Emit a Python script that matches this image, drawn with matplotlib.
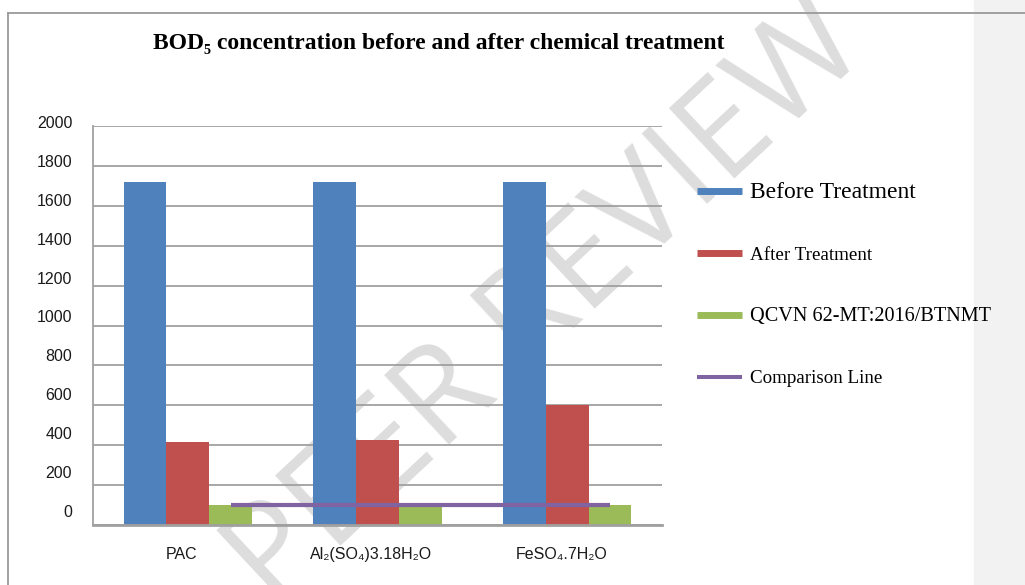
import numpy as np
import matplotlib
matplotlib.use('Agg')
import matplotlib.pyplot as plt
from matplotlib.lines import Line2D
from matplotlib.patches import Rectangle
import matplotlib.transforms as mtransforms

# 데이터
categories = ['PAC', 'Al₂(SO₄)3.18H₂O', 'FeSO₄.7H₂O']
before_vals = [1720, 1720, 1720]
after_vals = [418, 428, 603]
qcvn_vals = [100, 100, 100]
comparison_vals = [100, 100, 100]
y_ticks = [0, 200, 400, 600, 800, 1000, 1200, 1400, 1600, 1800, 2000]

series_names = ['Before Treatment', 'After Treatment', 'QCVN 62-MT:2016/BTNMT', 'Comparison Line']
colors = ['#4F81BD', '#C0504D', '#9BBB59', '#8064A2']

W, H = 1025, 585
fig = plt.figure(figsize=(W / 100, H / 100), dpi=100)

# 오른쪽 회색 띠, 테두리
fig.add_artist(Rectangle((974 / W, 0), 51 / W, 1, transform=fig.transFigure,
                         color='#f2f2f2', zorder=-3))
fig.add_artist(Line2D([8 / W, 1], [1 - 13 / H, 1 - 13 / H], transform=fig.transFigure,
                      color='#9a9a9a', lw=1.3, zorder=5))
fig.add_artist(Line2D([8 / W, 8 / W], [0, 1 - 13 / H], transform=fig.transFigure,
                      color='#9a9a9a', lw=1.3, zorder=5))

# 워터마크 (뒤쪽)
fig.text(548 / W, 1 - 305 / H, 'PEER REVIEW', fontsize=96, color='#dddddd',
         family=['Open Sans', 'DejaVu Sans'], rotation=43, ha='center', va='center',
         rotation_mode='anchor', zorder=-1)

ax = fig.add_axes([93 / W, 1 - 525 / H, 569 / W, 399 / H])
ax.set_facecolor('none')

x = np.arange(len(categories))
bw = 0.225
ax.bar(x - bw, before_vals, bw, color=colors[0], zorder=2)
ax.bar(x, after_vals, bw, color=colors[1], zorder=2)
ax.bar(x + bw, qcvn_vals, bw, color=colors[2], zorder=2)
ax.plot(x + bw, comparison_vals, color=colors[3], lw=3, solid_capstyle='butt', zorder=3)

ax.set_xlim(-0.5, 2.5)
ax.set_ylim(0, 2000)
ax.set_yticks(y_ticks)
ax.set_yticklabels([str(v) for v in y_ticks], family='Liberation Sans', fontsize=11.5, color='#1a1a1a')
ax.set_xticks(x)
ax.set_xticklabels(categories, family=['Liberation Sans', 'DejaVu Sans'], fontsize=11.5, color='#1a1a1a')
ax.tick_params(axis='y', length=0, pad=15)
ax.tick_params(axis='x', length=0, pad=16)
# y 라벨 위치 보정 (원본처럼 아래로 갈수록 위로 밀림)
for v, lab in zip(y_ticks, ax.get_yticklabels()):
    dy = 4 + (2000 - v) / 2000 * 10
    lab.set_transform(lab.get_transform() + mtransforms.ScaledTranslation(0, dy / 100, fig.dpi_scale_trans))
# x 라벨 살짝 왼쪽으로
for lab in ax.get_xticklabels():
    lab.set_transform(lab.get_transform() + mtransforms.ScaledTranslation(-6 / 100, 0, fig.dpi_scale_trans))

ax.grid(axis='y', color='#a0a0a0', lw=1.3, zorder=1)
ax.set_axisbelow(True)
for s in ['top', 'right']:
    ax.spines[s].set_visible(False)
ax.spines['left'].set_color('#a0a0a0')
ax.spines['left'].set_linewidth(1.3)
ax.spines['bottom'].set_color('#a0a0a0')
ax.spines['bottom'].set_linewidth(2)

fig.text(439 / W, 1 - 43 / H, 'BOD₅ concentration before and after chemical treatment',
         family=['Liberation Serif', 'DejaVu Serif'], fontweight='bold', fontsize=17,
         ha='center', va='center')

handles = [Line2D([], [], color=colors[0], lw=5, solid_capstyle='butt'),
           Line2D([], [], color=colors[1], lw=5, solid_capstyle='butt'),
           Line2D([], [], color=colors[2], lw=5, solid_capstyle='butt'),
           Line2D([], [], color=colors[3], lw=2.9, solid_capstyle='butt')]
leg = fig.legend(handles, series_names, loc='upper left', bbox_to_anchor=(687 / W, 1 - 172 / H),
                 frameon=False, prop={'family': 'Liberation Serif', 'size': 13.7},
                 handlelength=2.4, handletextpad=0.4, labelspacing=2.3, borderpad=0)
leg.get_texts()[0].set_fontsize(17)
leg.get_texts()[2].set_fontsize(14.6)

fig.savefig('out.png', dpi=100)
